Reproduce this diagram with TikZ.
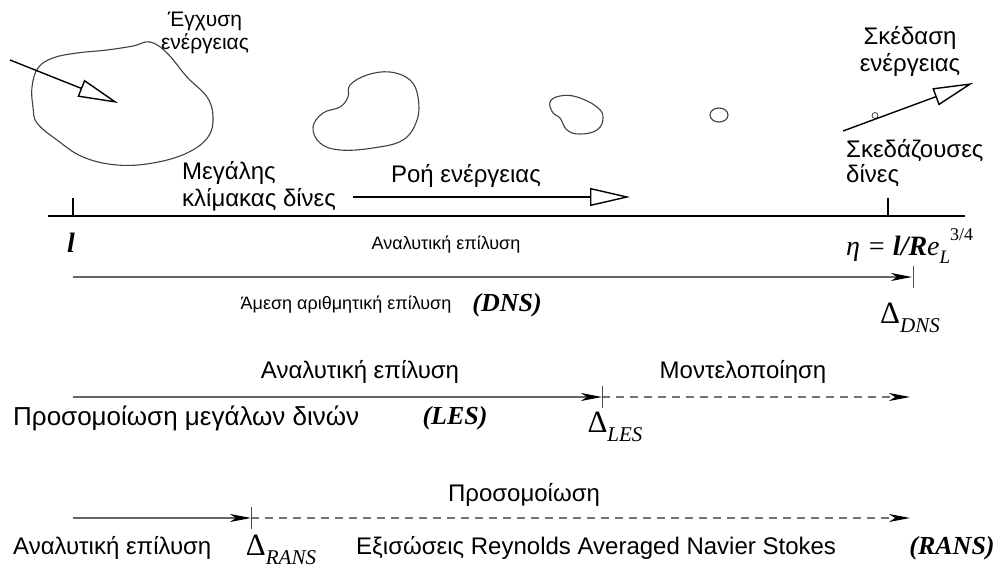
\documentclass[tikz,border=0pt]{standalone}
\usepackage{fontspec}
\setmainfont{Liberation Sans}
\newfontfamily\tnr{Liberation Serif}
\usetikzlibrary{arrows.meta}

% subscript for the Delta labels
\newcommand{\lowidx}[1]{\raisebox{-.6ex}{\fontsize{21}{21}\selectfont\itshape #1}}
\newcommand{\fs}[1]{\fontsize{#1}{#1}\selectfont}

\tikzset{
  txt/.style={inner sep=0pt,align=center,font=\fs{24}},
  blob/.style={draw=black!75,line width=1.1pt},
  flow/.style={line width=1.4pt,-{Triangle[open,length=40pt,width=18pt,line width=1.4pt]}},
  solve/.style={draw=black!60,line width=1.3pt,-{Stealth[length=21pt,width=8pt,inset=6pt,color=black]}},
  model/.style={draw=black!55,line width=1.3pt,dash pattern=on 8pt off 6pt,-{Stealth[length=21pt,width=8pt,inset=6pt,color=black]}},
  cut/.style={draw=black!70,line width=.9pt},
  abbr/.style={inner sep=0pt,font=\tnr\fs{26}\bfseries\itshape},
  delta/.style={inner sep=0pt,font=\tnr\fs{31}},
}

\begin{document}
\begin{tikzpicture}[x=1pt,y=-1pt]
\useasboundingbox (0,0) rectangle (1003,569);

% eddies, from large to small
\draw[blob] plot[smooth cycle,tension=.65] coordinates {(38,68) (53,58) (77,53) (107,50) (133,46) (150,42) (167,53) (187,77) (207,97) (213,117) (208,137) (187,153) (153,163) (117,165) (83,157) (57,140) (37,123) (33,107) (32,87)};
\draw[blob] plot[smooth cycle,tension=.65] coordinates {(350,85) (367,75) (390,72) (410,80) (418,97) (417,120) (403,140) (373,148) (340,150) (320,143) (313,127) (323,113) (340,107) (348,97)};
\draw[blob] plot[smooth cycle,tension=.7] coordinates {(550,102) (560,96) (577,97) (597,107) (603,118) (597,130) (580,134) (567,130) (560,118) (553,113)};
\draw[blob] (719,115) ellipse (9 and 7);
\draw[blob,line width=.8pt] (875,115.5) circle (3);

% energy in, through and out
\coordinate (inA) at (10,60);   \coordinate (inB) at (118,103);
\coordinate (flA) at (353,197); \coordinate (flB) at (630,197);
\coordinate (outA) at (843,131); \coordinate (outB) at (973,83);
\draw[flow] (inA) -- (inB);
\draw[flow] (flA) -- (flB);
\draw[flow] (outA) -- (outB);

\node[txt,font=\fs{21}] (inject) at (205,33) {Έγχυση\\[2pt]ενέργειας};
\node[txt] (dissip) at (910,51) {Σκέδαση\\[3pt]ενέργειας};
\node[txt,align=left,anchor=west] (small) at (846,163) {Σκεδάζουσες\\[1pt]δίνες};
\node[txt,align=left,anchor=west] (large) at (182,186) {Μεγάλης\\[3pt]κλίμακας δίνες};
\node[txt] (flow) at (466,176) {Ροή ενέργειας};

% length scale axis
\coordinate (axL) at (48,216); \coordinate (axR) at (965,216);
\coordinate (tl) at (73,216); \coordinate (teta) at (888,216);
\draw[line width=2.2pt] (axL) -- (axR);
\foreach \t in {tl,teta} \draw[line width=1.8pt] (\t) -- ++(0,-18);

\node[inner sep=0pt,font=\tnr\fs{28}\bfseries\itshape] (ell) at (71,243) {l};
\node[txt,font=\fs{18}] (an1) at (446,245) {Αναλυτική επίλυση};
\node[inner sep=0pt,anchor=west,font=\tnr\fs{28}] (eta) at (846,246) {\itshape η = \textbf{l/R}e\raisebox{-.6ex}{\fs{19}L}\raisebox{1.2ex}{\fs{18}\upshape 3/4}};

% DNS
\coordinate (dns0) at (73,277); \coordinate (dns1) at (912,277);
\draw[solve] (dns0) -- (dns1);
\draw[cut] (dns1) ++(1,-11) -- ++(0,22);
\node[txt,font=\fs{18}] (dnsT) at (346,305) {Άμεση αριθμητική επίλυση};
\node[abbr] (dnsN) at (507,305) {(DNS)};
\node[delta] (dnsD) at (910,318) {Δ\lowidx{DNS}};

% LES
\coordinate (les0) at (73,397); \coordinate (les1) at (602,397); \coordinate (les2) at (910,397);
\draw[solve] (les0) -- (les1);
\draw[model] (les1) -- (les2);
\draw[cut] (les1) ++(0,-11) -- ++(0,22);
\node[txt] (an2) at (360,372) {Αναλυτική επίλυση};
\node[txt] (mod) at (743,372) {Μοντελοποίηση};
\node[txt,font=\fs{26},anchor=west] (lesT) at (13,418) {Προσομοίωση μεγάλων δινών};
\node[abbr] (lesN) at (455,418) {(LES)};
\node[delta] (lesD) at (615,427) {Δ\lowidx{LES}};

% RANS
\coordinate (rans0) at (73,518); \coordinate (rans1) at (251,518); \coordinate (rans2) at (910,518);
\draw[solve] (rans0) -- (rans1);
\draw[model] (rans1) -- (rans2);
\draw[cut] (rans1) ++(0,-11) -- ++(0,22);
\node[txt] (sim) at (524,495) {Προσομοίωση};
\node[txt,anchor=west] (an3) at (13,548) {Αναλυτική επίλυση};
\node[delta] (ransD) at (281,550) {Δ\lowidx{RANS}};
\node[txt,anchor=west] (ransT) at (356,548) {Εξισώσεις Reynolds Averaged Navier Stokes};
\node[abbr] (ransN) at (952,548) {(RANS)};

\end{tikzpicture}
\end{document}
